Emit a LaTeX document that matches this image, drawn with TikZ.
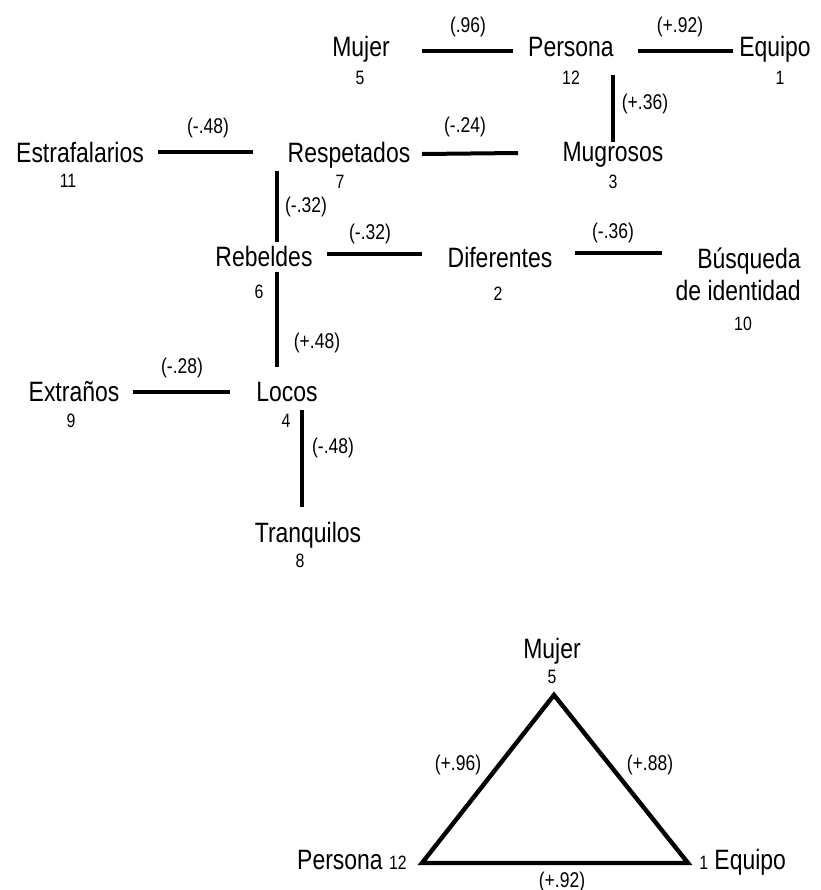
\documentclass[tikz,border=0pt]{standalone}
\usepackage{fontspec}
\setmainfont{Liberation Sans}[FakeStretch=0.82]
\tikzset{
 term/.style={font=\fontsize{21}{23.5}\selectfont,inner sep=0pt,anchor=base},
 count/.style={font=\fontsize{14.5}{17}\selectfont,inner sep=0pt,anchor=base},
 weight/.style={font=\fontsize{16}{19}\selectfont,inner sep=0pt,anchor=base},
 link/.style={line width=3pt}
}
\begin{document}
\begin{tikzpicture}[x=0.75pt,y=-0.75pt]
\useasboundingbox (0,0) rectangle (821,890);

\node[term] (mujer) at (361,56) {Mujer};
\node[term] (persona) at (571,56) {Persona};
\node[term] (equipo) at (775,56) {Equipo};
\node[term] (estrafalarios) at (80,162) {Estrafalarios};
\node[term] (respetados) at (349,162) {Respetados};
\node[term] (mugrosos) at (613,161) {Mugrosos};
\node[term] (rebeldes) at (264,266) {Rebeldes};
\node[term] (diferentes) at (500,267) {Diferentes};
\node[term,align=right,anchor=base east] (busqueda) at (801,300) {Búsqueda\\de identidad};
\node[term] (extranos) at (74,401) {Extraños};
\node[term] (locos) at (287,401) {Locos};
\node[term] (tranquilos) at (308,542) {Tranquilos};

\foreach \n/\x/\y [count=\i] in {5/360/84,12/571/84,1/780/84,11/68/187,7/340/188,
 3/613/188,6/259/298,2/498/300,10/743/330,9/71/427,4/286/427,8/300/567}
 \node[count] (n\i) at (\x,\y) {\n};

\foreach \w/\x/\y [count=\i] in {(.96)/468/32,(+.92)/680/32,(+.36)/645/109,
 (-.48)/208/133,(-.24)/465/132,(-.32)/306/212,(-.32)/370/239,(-.36)/613/238,
 (+.48)/317/348,(-.28)/182/373,(-.48)/333/453}
 \node[weight] (w\i) at (\x,\y) {\w};

\draw[link] ([shift={(61,-5)}]mujer.base) -- ([shift={(-58,-5)}]persona.base);
\draw[link] ([shift={(67,-5)}]persona.base) -- ([shift={(-42,-5)}]equipo.base);
\draw[link] ([shift={(42,19)}]persona.base) -- ([shift={(0,-19)}]mugrosos.base);
\draw[link] ([shift={(78,-10)}]estrafalarios.base) -- ([shift={(-96,-10)}]respetados.base);
\draw[link] ([shift={(73,-8)}]respetados.base) -- ([shift={(-95,-8)}]mugrosos.base);
\draw[link] ([shift={(-72,9)}]respetados.base) -- ([shift={(13,-24)}]rebeldes.base);
\draw[link] ([shift={(63,-12)}]rebeldes.base) -- ([shift={(-78,-13)}]diferentes.base);
\draw[link] ([shift={(75,-14)}]diferentes.base) -- ([shift={(-139,-47)}]busqueda.base east);
\draw[link] ([shift={(13,6)}]rebeldes.base) -- ([shift={(-10,-34)}]locos.base);
\draw[link] ([shift={(59,-9)}]extranos.base) -- ([shift={(-57,-9)}]locos.base);
\draw[link] ([shift={(15,9)}]locos.base) -- ([shift={(-6,-35)}]tranquilos.base);

\node[term] (tmujer) at (552,658) {Mujer};
\node[count] (tn) at (552,683) {5};
\node[term,anchor=base east] (tpersona) at (407,869) {Persona {\fontsize{14.5}{17}\selectfont 12}};
\node[term,anchor=base west] (tequipo) at (699,869) {{\fontsize{14.5}{17}\selectfont 1} Equipo};
\coordinate (apex) at ([shift={(2,37)}]tmujer.base);
\coordinate (left) at ([shift={(15,-6)}]tpersona.base east);
\coordinate (right) at ([shift={(-11,-6)}]tequipo.base west);
\draw[link,line width=3.3pt] (apex) -- (left) -- (right) -- cycle;
\node[weight] (tw1) at (458,770) {(+.96)};
\node[weight] (tw2) at (650,770) {(+.88)};
\node[weight] (tw3) at (562,887) {(+.92)};
\end{tikzpicture}
\end{document}
